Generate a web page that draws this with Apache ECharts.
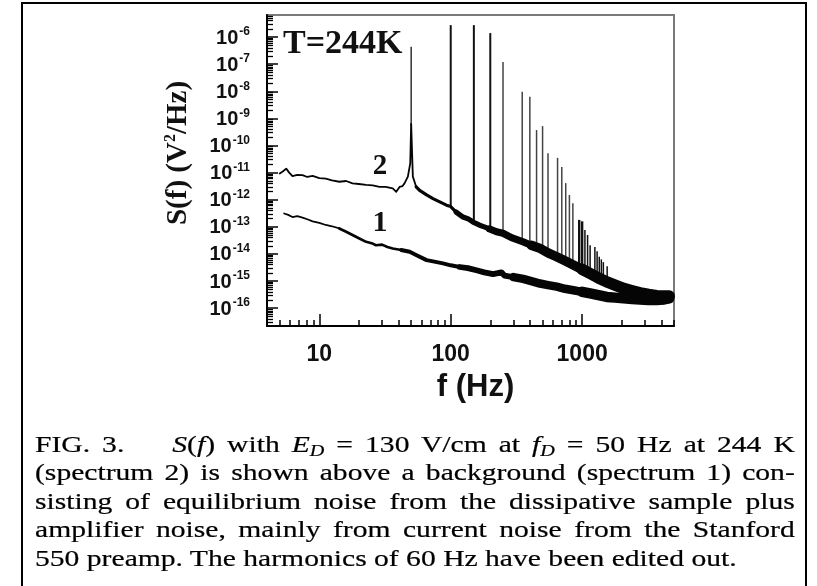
<!DOCTYPE html>
<html>
<head>
<meta charset="utf-8">
<script src="https://cdn.jsdelivr.net/npm/echarts@6/dist/echarts.min.js"></script>
<style>
html,body{margin:0;padding:0;background:#fff;}
#wrap{position:relative;width:817px;height:586px;overflow:hidden;background:#fff;}
#chart{position:absolute;left:0;top:0;width:817px;height:586px;}
#caption{position:absolute;left:35px;top:430px;width:603px;transform:scaleX(1.26);transform-origin:0 0;
  font-family:"Liberation Serif","Times New Roman",serif;font-size:23.5px;line-height:28.4px;color:#000;
  -webkit-text-stroke:0.2px #000;}
#caption .l{text-align:justify;text-align-last:justify;white-space:nowrap;}
#caption .last{text-align:left;text-align-last:left;}
#caption sub{font-size:0.68em;vertical-align:-0.22em;line-height:0;}
</style>
</head>
<body>
<div id="wrap">
  <div id="chart"></div>
  <div id="caption">
    <div class="l">FIG. 3.&nbsp;&nbsp;&nbsp; <i>S</i>(<i>f</i>) with <i>E<sub>D</sub></i> = 130 V/cm at <i>f<sub>D</sub></i> = 50 Hz at 244 K</div>
    <div class="l">(spectrum 2) is shown above a background (spectrum 1) con-</div>
    <div class="l">sisting of equilibrium noise from the dissipative sample plus</div>
    <div class="l">amplifier noise, mainly from current noise from the Stanford</div>
    <div class="l last">550 preamp. The harmonics of 60 Hz have been edited out.</div>
  </div>
</div>
<script>
// ---- Data ----
// Spectrum 2 (driven, E_D = 130 V/cm at 50 Hz): frequency (Hz) and S(f) (V^2/Hz)
const s2F = [5.0, 5.3, 5.6, 5.9, 6.25, 6.8, 7.45, 8.1, 8.9, 10, 11.2, 12.5, 14.2, 16, 17.9, 20, 22.7, 25.5, 28.7, 32, 36.2, 38.5, 40.8, 43, 44.5, 47.2, 49.2, 50, 51.5, 54.6, 58, 65.5, 73.3, 82.5, 92.8, 100, 110, 124, 135, 148, 166, 180, 198, 223, 250, 290, 356, 410, 478, 550, 640, 740, 857, 1000, 1150, 1330, 1540, 1780, 2060, 2400, 2760, 3200, 3700, 4200, 4600];
const s2S = [9.3e-12, 1.12e-11, 1.4e-11, 1.0e-11, 7.4e-12, 8.3e-12, 8.1e-12, 6.9e-12, 7.6e-12, 6.3e-12, 6.0e-12, 5.2e-12, 4.6e-12, 4.9e-12, 4.0e-12, 3.8e-12, 3.5e-12, 3.4e-12, 3.0e-12, 3.0e-12, 2.6e-12, 1.95e-12, 2.95e-12, 3.2e-12, 4.0e-12, 7.1e-12, 2.2e-11, 6.3e-10, 7.1e-12, 3.0e-12, 2.2e-12, 1.5e-12, 1.1e-12, 8.3e-13, 6.3e-13, 5.6e-13, 3.5e-13, 2.3e-13, 2.0e-13, 1.5e-13, 1.15e-13, 1.0e-13, 8.3e-14, 6.6e-14, 5.8e-14, 4.0e-14, 2.8e-14, 2.1e-14, 1.6e-14, 1.1e-14, 7.9e-15, 5.6e-15, 3.9e-15, 2.7e-15, 1.9e-15, 1.3e-15, 9.3e-16, 7.1e-16, 5.4e-16, 4.4e-16, 3.7e-16, 3.2e-16, 2.9e-16, 2.8e-16, 2.8e-16];

// Spectrum 1 (background)
const s1F = [5.4, 5.8, 6.25, 6.8, 7.45, 8.1, 8.9, 10, 11.2, 12.5, 14.2, 16, 17.9, 20, 22.7, 25, 27, 30, 33, 36.2, 42, 48.7, 55, 65.5, 75, 87.3, 100, 117, 135, 157, 180, 210, 243, 256, 300, 356, 410, 478, 550, 640, 740, 857, 1000, 1150, 1330, 1540, 1780, 2060, 2400, 2760, 3200, 3700, 4200, 4600];
const s1S = [3.1e-13, 2.75e-13, 2.3e-13, 2.5e-13, 2.2e-13, 1.9e-13, 1.6e-13, 1.4e-13, 1.17e-13, 1.05e-13, 8.7e-14, 6.6e-14, 5.0e-14, 3.8e-14, 2.8e-14, 2.5e-14, 2.1e-14, 2.2e-14, 1.8e-14, 1.6e-14, 1.4e-14, 1.2e-14, 8.9e-15, 5.9e-15, 5.2e-15, 4.5e-15, 3.8e-15, 3.3e-15, 3.0e-15, 2.5e-15, 2.1e-15, 1.8e-15, 2.1e-15, 1.6e-15, 1.4e-15, 1.2e-15, 1.0e-15, 8.1e-16, 7.1e-16, 6.2e-16, 5.2e-16, 4.6e-16, 4.0e-16, 3.5e-16, 3.0e-16, 2.6e-16, 2.45e-16, 2.3e-16, 2.2e-16, 2.1e-16, 2.0e-16, 2.0e-16, 2.1e-16, 2.3e-16];

// Harmonics of the 50 Hz drive (60 Hz harmonics removed): frequency, foot and tip of each line
const harmF    = [50, 100, 150, 200, 250, 350, 400, 450, 500, 550, 650, 700, 750, 800, 850, 950, 1000, 1050, 1100, 1150, 1250, 1300, 1350, 1400, 1450, 1550];
const harmBase = [5.0e-10, 5.6e-13, 1.5e-13, 8.3e-14, 5.8e-14, 2.95e-14, 2.2e-14, 1.8e-14, 1.4e-14, 1.1e-14, 7.9e-15, 6.6e-15, 5.5e-15, 4.7e-15, 4.0e-15, 3.0e-15, 2.7e-15, 2.4e-15, 2.1e-15, 1.9e-15, 1.55e-15, 1.4e-15, 1.26e-15, 1.17e-15, 1.1e-15, 9.3e-16];
const harmTop  = [4.4e-7, 2.75e-6, 2.75e-6, 1.4e-6, 1.2e-7, 9.5e-9, 6.3e-9, 3.7e-10, 5.2e-10, 5.2e-11, 3.5e-11, 1.6e-11, 4.1e-12, 1.5e-12, 7.4e-13, 1.8e-13, 1.6e-13, 7.6e-14, 5.0e-14, 2.1e-14, 1.8e-14, 1.26e-14, 7.9e-15, 6.3e-15, 5.0e-15, 3.5e-15];

// Axis ticks and labels
const xMin = 4, xMax = 5000;
const yMin = 2.2e-17, yMax = 6.5e-6;
const xMajor = [10, 100, 1000];
const xMinor = [5, 6, 7, 8, 9, 20, 30, 40, 50, 60, 70, 80, 90, 200, 300, 400, 500, 600, 700, 800, 900, 2000, 3000, 4000, 5000];
const yMajor = [1e-16, 1e-15, 1e-14, 1e-13, 1e-12, 1e-11, 1e-10, 1e-9, 1e-8, 1e-7, 1e-6];
const yMinor = [];
for (let e = -17; e <= -6; e++) {
  for (let k = 2; k <= 9; k++) {
    const v = Number((k * Math.pow(10, e)).toPrecision(3));
    if (v > yMin && v < yMax) yMinor.push(v);
  }
}

// ---- Drawing ----
const SANS = '"Liberation Sans", Arial, Helvetica, sans-serif';
const SERIF = '"Liberation Serif", "Times New Roman", serif';

function pick(F, S, lo, hi) {
  const out = [];
  for (let i = 0; i < F.length; i++) if (F[i] >= lo && F[i] <= hi) out.push([F[i], S[i]]);
  return out;
}
function lineSeg(F, S, lo, hi, w, z) {
  return {
    type: 'line', xAxisIndex: 0, yAxisIndex: 0, data: pick(F, S, lo, hi),
    showSymbol: false, symbol: 'none', silent: true, z: z,
    lineStyle: { color: '#050505', width: w, join: 'round', cap: 'round' }
  };
}
const s1Segs = [[0, 14.2, 1.8], [14.2, 42, 2.6], [42, 117, 4], [117, 300, 5.8], [300, 1000, 8.5], [1000, 1e5, 10.5]];
const s2Segs = [[0, 54.6, 1.8], [54.6, 110, 3.2], [110, 198, 5.2], [198, 410, 7.2], [410, 1000, 9.5], [1000, 1e5, 11.5]];

const series = [];
series.push({
  type: 'custom', xAxisIndex: 0, yAxisIndex: 0, silent: true, z: 2,
  data: harmF.map((f, i) => [f, harmBase[i], harmTop[i]]),
  renderItem: function (params, api) {
    const f = api.value(0);
    const p1 = api.coord([f, api.value(1)]);
    const p2 = api.coord([f, api.value(2)]);
    const w = f === 50 ? 1.3 : (f <= 200 ? 2 : (f >= 950 && f <= 1000 ? 2.4 : 1.5));
    return { type: 'line', shape: { x1: p1[0], y1: p1[1], x2: p2[0], y2: p2[1] },
      style: { stroke: f > 200 && f < 950 ? '#444' : '#111', lineWidth: w } };
  }
});
s1Segs.forEach(s => series.push(lineSeg(s1F, s1S, s[0], s[1], s[2], 3)));
s2Segs.forEach(s => series.push(lineSeg(s2F, s2S, s[0], s[1], s[2], 3)));

function yLabel(v) {
  const e = Math.round(Math.log10(v));
  return '{b|10}{s|' + e + '}';
}

const chart = echarts.init(document.getElementById('chart'), null, { renderer: 'canvas' });
chart.setOption({
  animation: false,
  backgroundColor: 'transparent',
  grid: { left: 267, right: 143, top: 15, bottom: 260, show: true, borderColor: '#7a7a7a', borderWidth: 2,
          containLabel: false, outerBoundsMode: 'none' },
  xAxis: [
    { type: 'log', logBase: 10, min: xMin, max: xMax, position: 'bottom',
      axisLine: { show: true, lineStyle: { color: '#000', width: 2 } },
      axisTick: { show: true, inside: true, length: 12, customValues: xMajor, lineStyle: { color: '#000', width: 1.5 } },
      minorTick: { show: false },
      axisLabel: { customValues: xMajor, formatter: v => String(Math.round(v)), color: '#111',
                   fontFamily: SANS, fontWeight: 'bold', fontSize: 23, margin: 17 },
      splitLine: { show: false },
      name: 'f (Hz)', nameLocation: 'middle', nameGap: 46,
      nameTextStyle: { fontFamily: SANS, fontWeight: 'bold', fontSize: 31, color: '#111', padding: [0, 0, 0, 10] } },
    { type: 'log', logBase: 10, min: xMin, max: xMax, position: 'bottom',
      axisLine: { show: false },
      axisTick: { show: true, inside: true, length: 6, customValues: xMinor, lineStyle: { color: '#000', width: 1.5 } },
      axisLabel: { show: false }, splitLine: { show: false } }
  ],
  yAxis: [
    { type: 'log', logBase: 10, min: yMin, max: yMax, position: 'left',
      axisLine: { show: true, lineStyle: { color: '#000', width: 2 } },
      axisTick: { show: true, inside: true, length: 11, customValues: yMajor, lineStyle: { color: '#000', width: 1.5 } },
      minorTick: { show: false },
      axisLabel: { customValues: yMajor, formatter: yLabel, margin: 17, align: 'right',
        rich: {
          b: { fontFamily: SANS, fontWeight: 'bold', fontSize: 20, color: '#111', lineHeight: 22, verticalAlign: 'bottom' },
          s: { fontFamily: SANS, fontWeight: 'bold', fontSize: 12, color: '#111', lineHeight: 12, verticalAlign: 'top', padding: [0, 0, 0, 1] }
        } },
      splitLine: { show: false } },
    { type: 'log', logBase: 10, min: yMin, max: yMax, position: 'left',
      axisLine: { show: false },
      axisTick: { show: true, inside: true, length: 6, customValues: yMinor, lineStyle: { color: '#000', width: 1.3 } },
      axisLabel: { show: false }, splitLine: { show: false } }
  ],
  series: series,
  graphic: [
    { type: 'rect', silent: true, z: 100, shape: { x: 22, y: 3, width: 784, height: 620 },
      style: { fill: 'none', stroke: '#000', lineWidth: 2 } },
    { type: 'text', silent: true, z: 100, x: 283, y: 44,
      style: { text: 'T=244K', fontFamily: SERIF, fontWeight: 'bold', fontSize: 34, fill: '#111',
               align: 'left', verticalAlign: 'middle' } },
    { type: 'text', silent: true, z: 100, x: 380, y: 167,
      style: { text: '2', fontFamily: SERIF, fontWeight: 'bold', fontSize: 29, fill: '#111',
               align: 'center', verticalAlign: 'middle' } },
    { type: 'text', silent: true, z: 100, x: 380, y: 223,
      style: { text: '1', fontFamily: SERIF, fontWeight: 'bold', fontSize: 30, fill: '#111',
               align: 'center', verticalAlign: 'middle' } },
    { type: 'text', silent: true, z: 100, x: 178, y: 153, rotation: Math.PI / 2,
      style: { text: '{a|S(f) (V}{s|2}{a|/Hz)}', align: 'center', verticalAlign: 'middle',
               rich: {
                 a: { fontFamily: SERIF, fontWeight: 'bold', fontSize: 29, fill: '#111', lineHeight: 30, verticalAlign: 'bottom' },
                 s: { fontFamily: SERIF, fontWeight: 'bold', fontSize: 16, fill: '#111', lineHeight: 20, verticalAlign: 'top' }
               } } }
  ]
});
</script>
</body>
</html>
